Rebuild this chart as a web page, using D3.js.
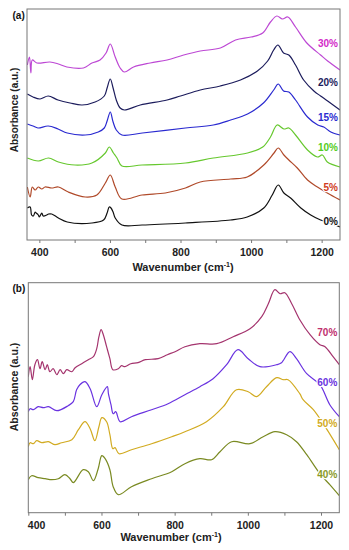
<!DOCTYPE html>
<html>
<head>
<meta charset="utf-8">
<title>FTIR spectra</title>
<script src="https://cdn.jsdelivr.net/npm/d3@7"></script>
<style>
  body { margin: 0; background: #fff; }
  text { font-family: Arial, "Liberation Sans", sans-serif; }
</style>
</head>
<body>
<svg id="chart"></svg>
<script>
// ---- data: [wavenumber (cm-1), absorbance (a.u., offset)] ----
const a0 = [[366,32],[374,33],[378,25],[383,24],[388,28],[391,27],[397,25],[400,23],[407,27],[411,24],[421,25],[426,26],[435,26],[454,22],[479,18],[549,17],[582,20],[592,27],[598,33],[603,32],[609,28],[615,22],[634,15],[691,15],[814,17],[942,20],[989,23],[1036,32],[1060,45],[1077,55],[1093,47],[1112,42],[1141,32],[1169,25],[1197,20],[1216,18],[1252,13]];
const a5 = [[366,53],[374,43],[380,53],[388,50],[397,53],[407,51],[416,53],[435,52],[454,53],[482,48],[530,43],[563,45],[587,57],[601,65],[615,53],[634,41],[691,45],[757,47],[814,52],[856,58],[942,61],[989,63],[1036,75],[1065,87],[1077,92],[1093,85],[1107,80],[1131,72],[1160,60],[1188,53],[1216,47],[1252,40]];
const a10 = [[366,82],[397,79],[426,82],[454,78],[501,75],[549,77],[587,87],[598,93],[610,87],[620,82],[634,74],[691,75],[814,77],[893,82],[990,87],[1033,93],[1055,103],[1074,115],[1093,111],[1107,112],[1126,105],[1160,90],[1188,83],[1202,85],[1216,78],[1252,73]];
const a15 = [[366,116],[382,114],[396,112],[425,114],[453,111],[479,107],[530,105],[567,108],[584,112],[592,119],[601,128],[609,118],[618,110],[634,105],[692,107],[814,112],[893,115],[942,120],[990,126],[1035,137],[1064,150],[1077,156],[1092,149],[1107,148],[1126,140],[1160,123],[1189,115],[1206,113],[1226,108],[1252,105]];
const a20 = [[366,146],[382,143],[402,141],[425,144],[453,140],[487,137],[521,135],[558,138],[584,144],[592,152],[601,161],[609,152],[618,140],[629,132],[641,130],[686,135],[762,140],[800,144],[856,150],[913,154],[970,160],[1018,169],[1047,179],[1064,190],[1076,195],[1092,187],[1107,185],[1126,175],[1149,160],[1178,149],[1197,144],[1217,139],[1252,130]];
const a30 = [[366,175],[372,183],[376,167],[380,180],[393,177],[430,178],[454,176],[478,173],[525,172],[549,177],[572,180],[589,187],[601,196],[615,183],[629,172],[641,168],[667,173],[714,177],[762,180],[809,185],[856,189],[913,192],[956,200],[1000,203],[1033,207],[1055,218],[1073,224],[1089,221],[1104,223],[1126,213],[1158,197],[1197,185],[1217,179],[1252,170]];

const b40 = [[400,33],[409,37],[427,35],[446,34],[464,33],[482,34],[500,38],[514,34],[523,30],[550,43],[564,41],[578,32],[591,44],[601,57],[610,54],[623,43],[632,26],[646,18],[682,26],[737,34],[792,41],[828,49],[869,54],[901,53],[924,61],[956,71],[1006,69],[1042,76],[1074,81],[1106,78],[1133,71],[1161,58],[1197,39],[1224,28],[1250,17]];
const b50 = [[400,66],[405,70],[414,69],[423,72],[437,70],[455,71],[473,68],[491,70],[519,73],[537,83],[555,91],[569,84],[582,72],[593,86],[601,95],[614,91],[623,78],[631,64],[637,65],[648,59],[682,63],[737,69],[792,76],[828,81],[887,91],[933,106],[969,123],[1001,121],[1024,116],[1051,126],[1079,135],[1097,133],[1110,133],[1142,119],[1151,113],[1179,103],[1206,89],[1250,63]];
const b60 = [[400,101],[405,104],[414,103],[427,106],[441,105],[455,106],[478,102],[509,107],[523,111],[532,123],[541,128],[555,131],[569,124],[587,106],[601,118],[616,126],[619,119],[626,108],[632,99],[639,101],[651,91],[682,96],[737,103],[782,109],[828,118],[869,126],[905,134],[942,148],[973,163],[1001,154],[1033,146],[1079,148],[1092,150],[1115,161],[1133,154],[1161,139],[1197,128],[1224,108],[1250,96]];
const b70 = [[400,136],[405,146],[411,133],[418,148],[425,153],[432,144],[438,151],[446,143],[452,148],[459,141],[468,144],[478,138],[487,143],[496,139],[505,143],[519,141],[528,145],[546,149],[564,153],[578,156],[587,164],[593,176],[599,183],[605,178],[614,166],[623,154],[631,143],[646,144],[655,147],[664,146],[680,149],[700,150],[720,153],[755,154],[780,158],[801,161],[828,166],[869,169],[915,169],[960,176],[1006,184],[1038,196],[1056,209],[1074,223],[1088,219],[1101,220],[1120,209],[1142,193],[1170,178],[1197,168],[1211,166],[1233,156],[1250,148]];

const seriesNamesA = ["0%", "5%", "10%", "15%", "20%", "30%"];
const seriesNamesB = ["40%", "50%", "60%", "70%"];
const labelLevelsA = [19, 53, 93, 123, 158, 197];
const labelLevelsB = [38, 89, 130, 180];
const xTicks = [400, 500, 600, 700, 800, 900, 1000, 1100, 1200];

// ---- layout ----
const W = 349, H = 550;
const svg = d3.select("#chart").attr("width", W).attr("height", H);

function drawPanel(cfg) {
    let x = d3.scaleLinear().domain(cfg.xDomain).range([cfg.left, cfg.right]);
    let y = d3.scaleLinear().domain(cfg.yDomain).range([cfg.bottom, cfg.top]);
    let g = svg.append("g");

    g.append("clipPath").attr("id", cfg.id + "clip")
        .append("rect")
        .attr("x", cfg.left).attr("y", cfg.top)
        .attr("width", cfg.right - cfg.left).attr("height", cfg.bottom - cfg.top);

    let line = d3.line()
        .x(d => x(d[0]))
        .y(d => y(d[1]))
        .curve(d3.curveCatmullRom);

    g.append("g").attr("clip-path", "url(#" + cfg.id + "clip)")
        .selectAll("path")
        .data(cfg.series).enter().append("path")
        .attr("d", d => line(d.data))
        .attr("fill", "none")
        .attr("stroke", d => d.color)
        .attr("stroke-width", 1.2)
        .attr("stroke-linejoin", "round");

    // labels (white halo so the curve passes behind them)
    g.selectAll(".lab")
        .data(cfg.series).enter().append("text")
        .attr("class", "lab")
        .attr("x", cfg.right - 2)
        .attr("y", d => y(d.level))
        .attr("dy", "0.35em")
        .attr("text-anchor", "end")
        .attr("font-size", 10)
        .attr("font-weight", "bold")
        .attr("fill", d => d.labelColor)
        .attr("stroke", "#fff").attr("stroke-width", 2.5)
        .attr("paint-order", "stroke")
        .text(d => d.name);

    // frame
    g.append("rect")
        .attr("x", cfg.left).attr("y", cfg.top)
        .attr("width", cfg.right - cfg.left).attr("height", cfg.bottom - cfg.top)
        .attr("fill", "none").attr("stroke", "#777").attr("stroke-width", 1);

    // x axis
    let ax = g.append("g")
        .attr("transform", "translate(0," + cfg.bottom + ")")
        .call(d3.axisBottom(x).tickValues(xTicks).tickSize(3).tickPadding(cfg.pad)
            .tickFormat(d => d % 200 === 0 ? d : ""));
    ax.select(".domain").remove();
    ax.selectAll(".tick line").attr("stroke", "#777");
    ax.selectAll("text")
        .attr("font-size", cfg.tickFont).attr("font-weight", "bold")
        .attr("font-family", "Arial, 'Liberation Sans', sans-serif")
        .attr("fill", "#222");
    if (cfg.firstStart) ax.selectAll("text").filter(d => d === 400).attr("text-anchor", "start").attr("dx", -1);

    // x title
    let t = g.append("text")
        .attr("x", cfg.titleX).attr("y", cfg.titleY)
        .attr("text-anchor", "middle")
        .attr("font-size", 11).attr("font-weight", "bold").attr("fill", "#222");
    t.append("tspan").text("Wavenumber (cm");
    t.append("tspan").attr("font-size", 7).attr("dy", -4).text("-1");
    t.append("tspan").attr("dy", 4).text(")");

    // y title
    g.append("text")
        .attr("transform", "translate(" + 17.5 + "," + cfg.yTitleY + ") rotate(-90)")
        .attr("text-anchor", "middle")
        .attr("font-size", cfg.yFont).attr("font-weight", "bold").attr("fill", "#222")
        .text("Absorbance (a.u.)");

    // panel letter
    g.append("text")
        .attr("x", 12.5).attr("y", cfg.letterY)
        .attr("font-family", "'Liberation Serif', 'Times New Roman', serif")
        .attr("font-size", 10).attr("font-weight", "bold").attr("fill", "#111")
        .text(cfg.letter);
}

const colorsA = ["#111111", "#b04a2a", "#66c82e", "#2a2ad0", "#1c1c5c", "#bd48d4"];
const labelColorsA = ["#111111", "#d03a22", "#55cc22", "#2a2ad0", "#1c1c5c", "#d22ac8"];
const colorsB = ["#7a8a22", "#d2ab22", "#6a33e0", "#a4346e"];
const labelColorsB = ["#8a9a28", "#d2ab22", "#6a33e0", "#c0306e"];

const dataA = [a0, a5, a10, a15, a20, a30];
const dataB = [b40, b50, b60, b70];

drawPanel({
    id: "a", left: 27, right: 340, top: 9, bottom: 240,
    xDomain: [365, 1252], yDomain: [0, 231],
    pad: 6, tickFont: 10.5, firstStart: false,
    titleX: 183, titleY: 270.5, yTitleY: 110, yFont: 10,
    letter: "(a)", letterY: 19,
    series: dataA.map((d, i) => ({ name: seriesNamesA[i], data: d, color: colorsA[i], labelColor: labelColorsA[i], level: labelLevelsA[i] }))
});

drawPanel({
    id: "b", left: 28.3, right: 339.3, top: 282.7, bottom: 512.7,
    xDomain: [400, 1250], yDomain: [0, 230],
    pad: 5.5, tickFont: 10.5, firstStart: true,
    titleX: 171, titleY: 540.5, yTitleY: 387, yFont: 10.5,
    letter: "(b)", letterY: 292,
    series: dataB.map((d, i) => ({ name: seriesNamesB[i], data: d, color: colorsB[i], labelColor: labelColorsB[i], level: labelLevelsB[i] }))
});
</script>
</body>
</html>
